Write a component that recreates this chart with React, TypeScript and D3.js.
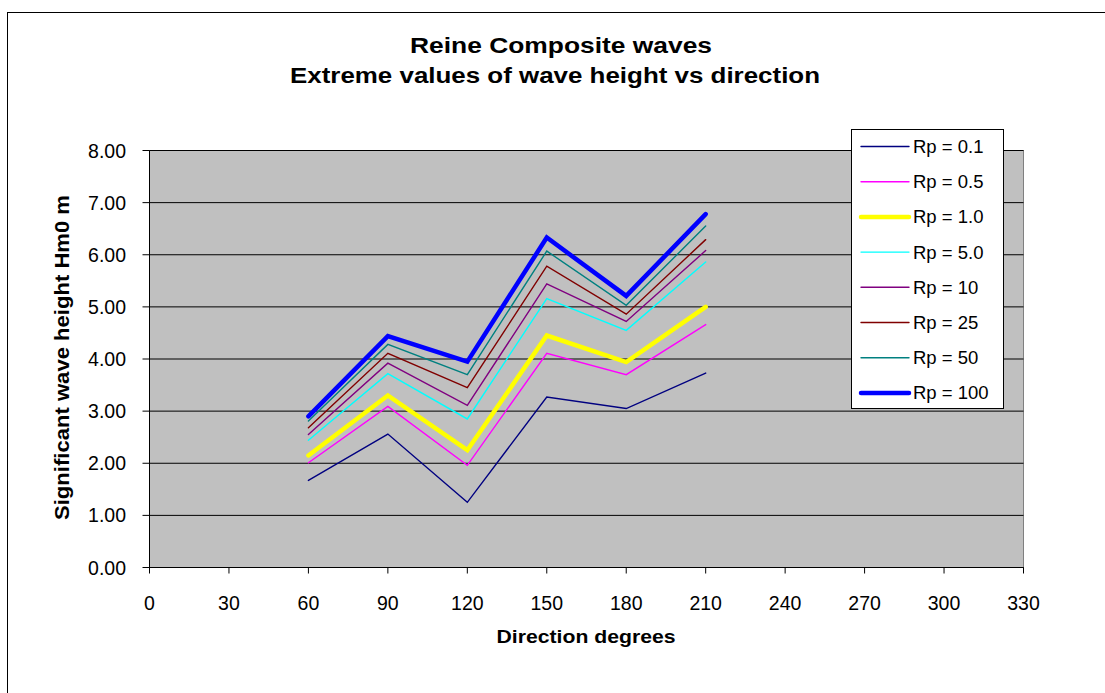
import React from "react";
import * as d3 from "d3";

const directions = [60, 90, 120, 150, 180, 210];
const seriesNames = ["Rp = 0.1", "Rp = 0.5", "Rp = 1.0", "Rp = 5.0", "Rp = 10", "Rp = 25", "Rp = 50", "Rp = 100"];
const rp01 = [1.67, 2.56, 1.25, 3.27, 3.05, 3.73];
const rp05 = [2.01, 3.09, 1.96, 4.11, 3.70, 4.66];
const rp1 = [2.15, 3.30, 2.25, 4.45, 3.94, 5.00];
const rp5 = [2.44, 3.72, 2.85, 5.16, 4.55, 5.86];
const rp10 = [2.55, 3.92, 3.11, 5.44, 4.72, 6.08];
const rp25 = [2.68, 4.11, 3.45, 5.78, 4.86, 6.29];
const rp50 = [2.81, 4.28, 3.70, 6.07, 5.03, 6.55];
const rp100 = [2.90, 4.44, 3.95, 6.33, 5.21, 6.78];
const seriesValues = [rp01, rp05, rp1, rp5, rp10, rp25, rp50, rp100];
const seriesColors = ["#000080", "#FF00FF", "#FFFF00", "#00FFFF", "#800080", "#800000", "#008080", "#0000FF"];
const seriesWidths = [1.4, 1.4, 4.5, 1.4, 1.4, 1.4, 1.4, 4.5];
const xTicks = [0, 30, 60, 90, 120, 150, 180, 210, 240, 270, 300, 330];
const yTicks = [0, 1, 2, 3, 4, 5, 6, 7, 8];

const FONT = "'Liberation Sans', Arial, sans-serif";

export default function App() {
  const left = 149.5, right = 1023.5, top = 150.5, bottom = 567.5;
  const x = d3.scaleLinear().domain([0, 330]).range([left, right]);
  const y = d3.scaleLinear().domain([0, 8]).range([bottom, top]);
  const line = d3.line<number>().x((_, i) => x(directions[i])).y((d) => y(d));

  const legX = 851.5, legY = 129.5, legW = 152, legH = 279;
  const rowY = (i: number) => 146.5 + i * 35.2;

  return (
    <svg width={1105} height={693} style={{ position: "absolute", left: 0, top: 0, background: "#fff" }}>
      <rect x={7.5} y={12.5} width={1120} height={700} fill="#fff" stroke="#000" strokeWidth={1} />
      <text x={561} y={53} textAnchor="middle" fontFamily={FONT} fontWeight="bold" fontSize={22} fill="#000"
        textLength={302} lengthAdjust="spacingAndGlyphs">
        Reine Composite waves
      </text>
      <text x={555} y={83} textAnchor="middle" fontFamily={FONT} fontWeight="bold" fontSize={22} fill="#000"
        textLength={530} lengthAdjust="spacingAndGlyphs">
        Extreme values of wave height vs direction
      </text>

      <rect x={left} y={top} width={right - left} height={bottom - top} fill="#C0C0C0" stroke="#808080" strokeWidth={1} />
      {yTicks.map((t) => (
        <line key={"g" + t} x1={left} x2={right} y1={y(t)} y2={y(t)} stroke="#000" strokeWidth={1} />
      ))}
      <line x1={left} x2={left} y1={top} y2={bottom} stroke="#000" strokeWidth={1} />
      <line x1={left} x2={right} y1={bottom} y2={bottom} stroke="#000" strokeWidth={1} />
      {yTicks.map((t) => (
        <g key={"yt" + t}>
          <line x1={left - 7} x2={left} y1={y(t)} y2={y(t)} stroke="#000" />
          <text x={126} y={y(t) + 7} textAnchor="end" fontFamily={FONT} fontSize={19.5} fill="#000">
            {t.toFixed(2)}
          </text>
        </g>
      ))}
      {xTicks.map((t) => (
        <g key={"xt" + t}>
          <line x1={x(t)} x2={x(t)} y1={bottom} y2={bottom + 6} stroke="#000" />
          <text x={x(t)} y={610} textAnchor="middle" fontFamily={FONT} fontSize={19.5} fill="#000">
            {t}
          </text>
        </g>
      ))}
      <text x={586} y={643} textAnchor="middle" fontFamily={FONT} fontWeight="bold" fontSize={19} fill="#000"
        textLength={179} lengthAdjust="spacingAndGlyphs">
        Direction degrees
      </text>
      <text
        transform={`translate(69,357.5) rotate(-90)`}
        textAnchor="middle"
        fontFamily={FONT}
        fontWeight="bold"
        fontSize={20}
        fill="#000"
        textLength={325}
        lengthAdjust="spacingAndGlyphs"
      >
        Significant wave height Hm0 m
      </text>

      {seriesValues.map((vals, i) => (
        <path
          key={"s" + i}
          d={line(vals) || ""}
          fill="none"
          stroke={seriesColors[i]}
          strokeWidth={seriesWidths[i]}
          strokeLinejoin="miter"
          strokeLinecap="round"
        />
      ))}

      <rect x={legX} y={legY} width={legW} height={legH} fill="#fff" stroke="#000" strokeWidth={1} />
      {seriesNames.map((n, i) => (
        <g key={"l" + i}>
          <line x1={861} x2={909} y1={rowY(i)} y2={rowY(i)} stroke={seriesColors[i]} strokeWidth={seriesWidths[i]} strokeLinecap="round" />
          <text x={913} y={rowY(i) + 6.5} fontFamily={FONT} fontSize={18.5} fill="#000">
            {n}
          </text>
        </g>
      ))}
    </svg>
  );
}
